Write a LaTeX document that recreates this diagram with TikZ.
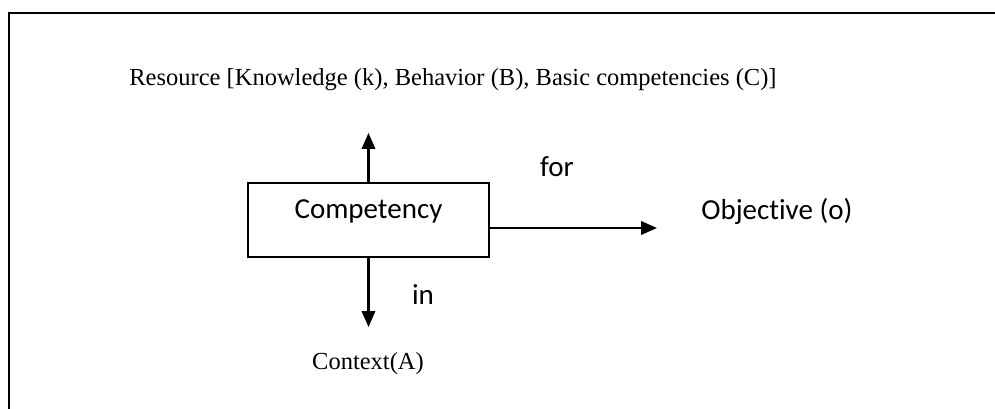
\documentclass[tikz,border=0pt]{standalone}
\usepackage{fontspec}
\setmainfont{Liberation Serif}
\newfontfamily\calibri[Ligatures={NoCommon}]{Carlito}
\usetikzlibrary{arrows.meta}

\begin{document}
\begin{tikzpicture}[x=0.02cm, y=-0.02cm]
			\tikzset {>={Triangle[length=0.32cm, width=0.27cm]},
				rule/.style={line width=1.2pt},
				arrowline/.style={->, rule},
				serif/.style={inner sep=0pt, font=\fontsize{13.95pt}{16pt}\selectfont},
				sans/.style={inner sep=0pt, font=\calibri\fontsize{16.5pt}{19pt}\selectfont},
				compbox/.style={draw, rule, sans, minimum width=4.82cm, minimum height=1.48cm, text height=0.7cm, text depth=0.78cm} }
			\useasboundingbox (0,0) rectangle (995,409);

			% frame
			\draw[rule] (9,409) -- (9,13) -- (995,13);

			\node[compbox] (comp) at (368.5,220) {Competency};
			\node[serif, anchor=base west] (res) at (129,85) {Resource [Knowledge (k), Behavior (B), Basic competencies (C)]};
			\node[serif, anchor=base] (ctx) at (368,369) {Context(A)};
			\node[sans, anchor=base west] (obj) at (701,219) {Objective (o)};
			\node[sans, anchor=base] (for) at (557,176) {for};
			\node[sans, anchor=base] (in) at (423,304) {in};

			\coordinate (upEnd) at (368.5,133);
			\coordinate (downEnd) at (368.5,327);
			\coordinate (rightEnd) at (657,228);

			\draw[arrowline] (comp.north) -- (upEnd);
			\draw[arrowline] (comp.south) -- (downEnd);
			\draw[arrowline] (comp.east |- rightEnd) -- (rightEnd);
		\end{tikzpicture}
\end{document}
